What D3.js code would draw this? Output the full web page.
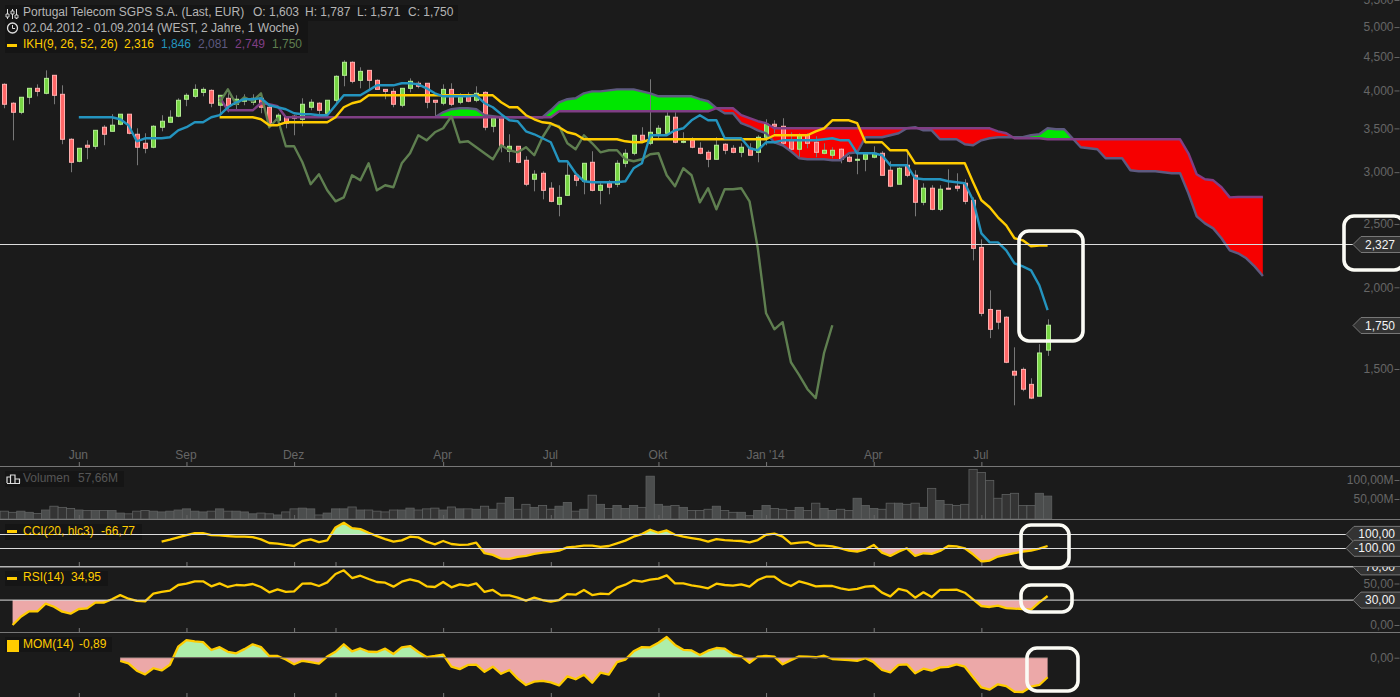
<!DOCTYPE html>
<html><head><meta charset="utf-8">
<script src="https://cdn.jsdelivr.net/npm/d3@7/dist/d3.min.js"></script>
<style>
html,body{margin:0;padding:0;background:#1b1b1b;overflow:hidden}
svg{display:block}
text{font-family:"Liberation Sans",Arial,sans-serif;font-size:12px}
</style></head><body><svg id="c" width="1400" height="697"></svg>
<script>
// ---------- data (weekly, EUR) ----------
const opens=[4.087,3.824,3.704,3.905,4.030,3.960,4.219,3.946,3.368,3.117,
3.298,3.286,3.514,3.464,3.551,3.679,3.428,3.321,3.275,3.514,
3.576,3.653,3.878,3.918,3.973,4.001,3.797,3.891,3.810,3.851,
3.837,3.891,3.770,3.601,3.640,3.653,3.614,3.770,3.824,3.691,
3.864,4.219,4.417,4.145,4.293,4.145,4.015,3.987,3.797,4.030,
4.102,4.102,3.864,3.824,4.015,3.837,3.932,3.864,3.973,3.526,
3.640,3.229,3.286,3.128,2.926,2.988,2.835,2.679,2.765,2.967,
2.905,3.106,2.814,2.885,2.875,3.095,3.206,3.416,3.321,3.440,
3.440,3.640,3.333,3.356,3.263,3.217,3.139,3.310,3.263,3.217,
3.263,3.217,3.392,3.551,3.526,3.356,3.252,3.416,3.333,3.206,
3.184,3.252,3.162,3.128,3.139,3.162,3.206,3.020,2.875,3.074,
2.967,2.698,2.835,2.632,2.835,2.855,2.885,2.717,2.302,1.850,
1.844,1.800,1.488,1.498,1.421,1.363,1.603];
const highs=[4.102,3.837,3.905,4.030,4.087,4.293,4.219,4.073,3.380,3.263,
3.356,3.476,3.539,3.679,3.679,3.679,3.501,3.440,3.539,3.666,
3.730,3.891,3.960,4.087,4.044,4.015,3.932,3.960,3.932,3.946,
3.946,3.932,3.784,3.691,3.640,3.666,3.891,3.878,3.837,3.864,
4.219,4.448,4.432,4.340,4.293,4.160,4.015,4.030,4.030,4.174,
4.131,4.102,3.864,4.087,4.102,3.960,3.973,4.059,3.987,3.627,
3.640,3.428,3.286,3.173,3.020,3.009,2.895,2.865,3.095,2.988,
3.095,3.229,2.905,2.915,3.128,3.252,3.416,3.514,4.160,3.539,
3.704,3.704,3.452,3.392,3.333,3.240,3.392,3.321,3.298,3.321,
3.321,3.416,3.614,3.601,3.627,3.452,3.440,3.440,3.404,3.321,
3.275,3.263,3.184,3.217,3.206,3.286,3.229,3.117,3.052,3.217,
3.020,2.885,2.865,2.865,3.030,2.988,2.926,2.745,2.368,1.979,
1.844,1.806,1.619,1.508,1.452,1.637,1.787];
const lows=[3.757,3.356,3.679,3.810,3.918,3.946,3.810,3.310,2.999,3.106,
3.139,3.252,3.298,3.464,3.539,3.428,3.074,3.206,3.263,3.464,
3.576,3.640,3.784,3.891,3.918,3.770,3.691,3.704,3.730,3.797,
3.797,3.691,3.514,3.564,3.501,3.416,3.526,3.730,3.666,3.691,
3.824,4.059,4.102,4.030,4.015,4.015,3.878,3.770,3.770,3.973,
4.030,3.757,3.640,3.797,3.784,3.810,3.837,3.837,3.476,3.452,
3.217,3.106,3.095,2.855,2.804,2.726,2.698,2.568,2.765,2.855,
2.775,2.804,2.679,2.775,2.845,3.052,3.184,3.333,3.298,3.380,
3.440,3.321,3.321,3.263,3.195,3.052,3.139,3.195,3.206,3.162,
3.184,3.106,3.298,3.440,3.298,3.240,3.162,3.263,3.162,3.195,
3.150,3.095,3.106,2.978,3.009,3.150,2.967,2.845,2.875,2.947,
2.568,2.670,2.623,2.614,2.825,2.804,2.679,2.199,1.806,1.672,
1.725,1.531,1.320,1.387,1.349,1.363,1.571];
const closes=[3.810,3.704,3.905,4.030,3.987,4.174,3.932,3.368,3.106,3.263,
3.275,3.476,3.428,3.539,3.679,3.440,3.275,3.263,3.526,3.589,
3.640,3.864,3.932,4.015,4.015,3.824,3.932,3.784,3.878,3.878,
3.891,3.770,3.564,3.666,3.564,3.627,3.810,3.837,3.730,3.864,
4.204,4.417,4.131,4.278,4.145,4.015,3.987,3.810,4.030,4.131,
4.059,3.837,3.837,4.015,3.810,3.905,3.851,3.960,3.514,3.627,
3.286,3.286,3.106,2.875,2.978,2.814,2.707,2.745,2.967,2.915,
3.095,2.814,2.865,2.845,3.095,3.206,3.416,3.356,3.452,3.501,
3.653,3.333,3.344,3.275,3.206,3.139,3.298,3.240,3.217,3.275,
3.184,3.392,3.551,3.526,3.321,3.252,3.416,3.321,3.217,3.240,
3.240,3.139,3.117,3.139,3.195,3.206,2.967,2.855,3.041,2.967,
2.698,2.835,2.632,2.825,2.825,2.835,2.707,2.294,1.825,1.725,
1.769,1.536,1.468,1.397,1.354,1.587,1.750];
const tenkanStart=9;
const tenkan=[3.640,3.640,3.640,3.640,3.640,3.614,3.539,3.344,3.380,3.380,
3.380,3.392,3.476,3.514,3.576,3.576,3.640,3.666,3.770,3.837,
3.878,3.878,3.891,3.797,3.770,3.744,3.691,3.679,3.679,3.666,
3.666,3.797,3.932,3.932,3.932,4.001,4.073,4.073,4.073,4.102,
4.102,4.087,4.030,3.960,3.918,3.918,3.918,3.918,3.932,3.824,
3.770,3.679,3.601,3.589,3.464,3.428,3.380,3.333,3.117,3.117,
2.988,2.905,2.895,2.895,2.895,2.895,2.905,3.041,3.095,3.416,
3.416,3.416,3.476,3.501,3.601,3.666,3.601,3.601,3.380,3.380,
3.380,3.263,3.240,3.333,3.333,3.356,3.356,3.356,3.356,3.356,
3.368,3.380,3.356,3.356,3.206,3.206,3.206,3.184,3.074,3.074,
3.074,2.936,2.926,2.926,2.926,2.905,2.895,2.885,2.717,2.418,
2.343,2.343,2.278,2.176,2.153,2.123,2.014,1.846];
const kijunStart=26;
const kijun=[3.640,3.640,3.640,3.640,3.640,3.614,3.539,3.539,3.576,3.576,
3.576,3.576,3.576,3.576,3.640,3.770,3.824,3.851,3.932,3.932,
3.932,3.932,3.932,3.932,3.932,3.932,3.932,3.932,3.932,3.932,
3.932,3.932,3.932,3.932,3.837,3.770,3.770,3.666,3.614,3.576,
3.564,3.514,3.452,3.428,3.368,3.368,3.368,3.368,3.368,3.344,
3.333,3.333,3.368,3.368,3.368,3.368,3.368,3.368,3.368,3.368,
3.368,3.368,3.368,3.368,3.368,3.368,3.368,3.416,3.416,3.416,
3.416,3.416,3.464,3.501,3.601,3.601,3.601,3.564,3.333,3.333,
3.333,3.240,3.240,3.240,3.095,3.095,3.095,3.095,3.095,3.095,
3.095,2.895,2.717,2.651,2.559,2.488,2.377,2.360,2.311,2.316,2.316];
const spanAStart=52;
const spanA=[3.640,3.704,3.744,3.757,3.757,3.744,3.666,3.653,3.640,3.640,
3.640,3.640,3.640,3.640,3.730,3.837,3.878,3.891,3.960,3.987,
3.987,4.001,4.015,4.015,4.015,3.987,3.960,3.918,3.918,3.918,
3.918,3.918,3.878,3.851,3.757,3.691,3.691,3.564,3.526,3.476,
3.440,3.333,3.298,3.229,3.150,3.139,3.139,3.139,3.128,3.128,
3.206,3.217,3.392,3.392,3.392,3.416,3.440,3.501,3.514,3.476,
3.476,3.368,3.368,3.368,3.310,3.298,3.356,3.380,3.392,3.392,
3.392,3.392,3.416,3.428,3.501,3.489,3.489,3.380,3.275,3.263,
3.252,3.150,3.150,3.150,3.020,3.009,3.009,3.009,2.999,2.988,
2.988,2.785,2.568,2.505,2.461,2.377,2.278,2.254,2.215,2.153,2.081];
const spanBStart=26;
const spanB=[3.905,3.730,3.730,3.730,3.730,3.824,3.810,3.784,3.640,3.640,
3.640,3.640,3.640,3.640,3.640,3.640,3.640,3.640,3.640,3.640,
3.640,3.640,3.640,3.640,3.640,3.640,3.640,3.640,3.640,3.640,
3.640,3.640,3.640,3.640,3.640,3.640,3.640,3.640,3.640,3.640,3.640,
3.717,3.717,3.717,3.717,3.717,3.717,3.717,3.717,3.717,3.717,
3.717,3.717,3.717,3.717,3.717,3.717,3.717,3.717,3.717,
3.757,3.757,3.757,3.666,3.627,3.589,3.564,
3.501,3.501,3.501,3.501,3.501,3.501,3.501,3.501,3.501,3.501,
3.501,3.501,3.501,3.501,3.501,3.501,3.501,3.501,3.501,3.501,
3.501,3.501,3.501,3.501,3.501,3.501,3.501,
3.464,3.440,3.380,3.380,3.380,3.380,
3.368,3.368,3.368,3.368,3.368,3.368,3.368,3.368,3.368,3.368,
3.368,3.368,3.368,3.368,3.368,3.368,3.368,
3.206,2.978,2.926,2.915,2.845,2.745,2.749,2.749,2.749,2.749];
const volumes=[18,15,18,15,12,21,31,28,25,21,
20,20,20,20,13,11,18,20,18,16,
18,21,24,18,16,18,24,18,18,16,
11,13,11,8,16,24,26,24,8,13,
24,24,29,21,21,18,16,21,21,26,
21,24,26,21,29,24,24,23,31,23,
39,54,23,36,28,33,23,31,41,18,
23,60,36,25,33,25,33,28,110,36,
31,33,28,20,20,23,31,20,15,15,
6,20,33,25,23,20,28,20,39,25,
20,23,20,52,33,25,23,39,39,36,
39,28,78,46,36,33,36,128,120,99,
52,62,65,33,33,65,57.66];
const cciStart=19;
const cci=[-5,24,57,90,119,119,90,86,76,67,
67,62,29,-24,-33,-52,-67,5,29,-10,
14,200,267,190,176,124,76,33,-5,14,
67,57,-5,-43,5,-38,-52,-48,-19,-171,
-195,-248,-252,-224,-209,-181,-162,-152,-133,-86,
-76,-62,-62,-81,-67,-29,10,67,105,167,
124,157,95,67,48,29,-5,33,19,10,
5,-14,19,95,110,67,-33,-19,-10,-62,
-62,-71,-100,-133,-148,-114,-52,-162,-209,-148,
-100,-209,-171,-181,-138,-67,-71,-100,-186,-290,
-276,-219,-195,-171,-148,-133,-105,-66.77];
const rsiStart=1;
const rsi=[0,10,16.5,16.5,25.7,22,16,13.7,19.3,20,
27,27,31,36,31.7,29,28.5,37.8,40,41.4,
48.2,49.8,52.6,52.6,46.6,50.2,45.8,48.2,47.8,49.4,
45.8,39.4,43,39.8,40.6,49.8,50.2,47,51.4,61.4,
65.9,56.6,59.4,55.4,51.8,51,46.2,52.2,55,52.6,
46.6,45.8,51.8,45.4,49,47.4,50.2,39.8,42.2,35.7,
35.7,32.9,29.3,32.9,30.1,28.1,30.1,37.3,36.5,42.2,
36.1,37.8,37.3,45,48.6,53.8,52.2,54.6,55.8,59.8,
50.2,50.2,47.8,46.2,44.2,49.8,48.2,47.4,49,46.2,
54.2,58.2,58.2,51,47,52.6,49.8,46.6,47,47,
44.2,42.2,43.4,46.2,47,39,34.5,43.4,41,32.9,
39.4,33.7,42.2,42.2,42.6,38.9,30.9,22.9,21.7,23.3,
20.4,19.7,19.3,18.5,27.3,34.95];
const momStart=14;
const mom=[-0.15,-0.26,-0.59,-0.76,-0.48,-0.58,-0.32,0.50,0.80,0.74,
0.71,0.35,0.48,0.27,0.20,0.39,0.61,0.48,0.08,0.08,
-0.08,-0.30,-0.14,-0.20,-0.27,0.05,0.27,0.61,0.29,0.42,
0.27,0.26,0.41,0.17,0.47,0.53,0.26,0.03,0.08,0.14,
-0.41,-0.52,-0.33,-0.32,-0.64,-0.41,-0.73,-0.56,-0.95,-1.24,
-1.09,-1.05,-1.12,-1.26,-0.85,-0.98,-0.77,-1.14,-0.68,-0.77,
-0.20,-0.09,0.29,0.48,0.47,0.68,0.94,0.58,0.36,0.33,
0.12,0.32,0.44,0.41,0.15,0.06,-0.23,0.05,0.08,0.05,
-0.30,-0.11,0.06,0.05,0.02,0.09,-0.06,-0.09,-0.11,-0.14,
-0.02,-0.21,-0.56,-0.67,-0.33,-0.30,-0.71,-0.50,-0.59,-0.44,
-0.42,-0.30,-0.41,-0.89,-1.35,-1.45,-1.21,-1.29,-1.55,-1.56,
-1.32,-1.24,-0.89];
const monthTickIdx=[9,22,35,53,66,79,92,105,118];
const monthTickLabels=["Jun","Sep","Dez","Apr","Jul","Okt","Jan '14","Apr","Jul"];
const panelTickIdx=[9,22,35,40,53,66,79,92,105,118];
const priceTicks=[1.5,2,2.5,3,3.5,4,4.5,5,5.5];
const priceTickLabels=["1,500","2,000","2,500","3,000","3,500","4,000","4,500","5,000","5,500"];
const lastCloseLabel="1,750", levelLabel="2,327";
const levelValue=2.327, lastClose=1.750;

// ---------- colours ----------
const C={bg:"#1b1b1b",box:"#151515",sep:"#777",tick:"#666",hl:"#dddddd",
 yellow:"#ffcc00",blue:"#2494bf",spanA:"#5e5a80",spanB:"#803f85",chikou:"#5f7f50",
 cloudUp:"#00e600",cloudDn:"#f60000",upFill:"#77d544",upEdge:"#b4ec94",dnFill:"#ff6868",dnEdge:"#ffb0b0",
 wick:"#777",softG:"#aeeeaa",softR:"#eca8a8",mark:"#fbfbf5"};

const svg=d3.select("#c");
svg.append("rect").attr("width",1400).attr("height",697).attr("fill",C.bg);

// ---------- scales ----------
const x=d3.scaleLinear().domain([0,152]).range([4.3,1262.9]);
const step=x(1)-x(0);
const y=d3.scaleLog().domain([1.5,5.5]).range([369,0]);
const yVol=d3.scaleLinear().domain([0,100]).range([518,480]);
const yCci=d3.scaleLinear().domain([-100,100]).range([548.3,534.4]);
const yRsi=d3.scaleLinear().domain([0,70]).range([625,566.9]);
const yMom=d3.scaleLinear().domain([-1,0]).range([679.7,657.7]);
const ser=(vals,start)=>vals.map((v,k)=>({i:k+start,v}));
const defs=svg.append("defs");
const clip=(id,y0,y1)=>defs.append("clipPath").attr("id",id).append("rect").attr("x",0).attr("width",1400).attr("y",y0).attr("height",y1-y0);
const box=(a,b,w,h)=>svg.append("rect").attr("x",a).attr("y",b).attr("width",w).attr("height",h).attr("fill",C.box);

// ---------- legend backgrounds (level lines run over them) ----------
box(5,5,453,16); box(5,21,303,32); box(5,471,119,16); box(5,524,137,16); box(5,571,103,15); box(5,637,107,15);

// ---------- ichimoku cloud ----------
const A=ser(spanA,spanAStart), B=ser(spanB,spanBStart);
const bBy=new Map(B.map(d=>[d.i,d.v]));
const aBy=new Map(A.map(d=>[d.i,d.v]));
const cloudArea=d3.area().x(d=>x(d.i)).y0(d=>y(d.v)).y1(d=>y(bBy.get(d.i)));
const aboveB=d3.area().x(d=>x(d.i)).y0(0).y1(d=>y(d.v));
const belowB=d3.area().x(d=>x(d.i)).y0(466).y1(d=>y(d.v));
const bOver=B.filter(d=>aBy.has(d.i));
defs.append("clipPath").attr("id","abvB").append("path").attr("d",aboveB(bOver));
defs.append("clipPath").attr("id","blwB").append("path").attr("d",belowB(bOver));
svg.append("path").attr("d",cloudArea(A)).attr("fill",C.cloudUp).attr("clip-path","url(#abvB)");
svg.append("path").attr("d",cloudArea(A)).attr("fill",C.cloudDn).attr("clip-path","url(#blwB)");

// ---------- candles ----------
const candles=opens.map((o,i)=>({i,o,h:highs[i],l:lows[i],c:closes[i]}));
const gc=svg.append("g");
gc.selectAll("line").data(candles).join("line")
 .attr("x1",d=>Math.round(x(d.i))+.5).attr("x2",d=>Math.round(x(d.i))+.5)
 .attr("y1",d=>y(d.h)).attr("y2",d=>y(d.l)).attr("stroke",C.wick).attr("stroke-width",1);
gc.selectAll("rect").data(candles).join("rect")
 .attr("x",d=>Math.round(x(d.i))-1.5).attr("width",4)
 .attr("y",d=>Math.min(y(d.o),y(d.c)))
 .attr("height",d=>Math.max(1,Math.abs(y(d.o)-y(d.c))))
 .attr("fill",d=>d.c>=d.o?C.upFill:C.dnFill)
 .attr("stroke",d=>d.c>=d.o?C.upEdge:C.dnEdge).attr("stroke-width",1);

// ---------- ichimoku lines ----------
const ln=d3.line().x(d=>x(d.i)).y(d=>y(d.v));
const chikou=closes.slice(52).map((v,k)=>({i:k+26,v}));
[[A,C.spanA],[B,C.spanB],[chikou,C.chikou],[ser(kijun,kijunStart),C.yellow],[ser(tenkan,tenkanStart),C.blue]]
 .forEach(([d,col])=>svg.append("path").attr("d",ln(d)).attr("fill","none").attr("stroke",col).attr("stroke-width",2.4).attr("stroke-linejoin","round"));

// ---------- volume ----------
svg.append("g").selectAll("rect").data(volumes.map((v,i)=>({i,v}))).join("rect")
 .attr("x",d=>x(d.i)-step/2).attr("width",step)
 .attr("y",d=>yVol(d.v)).attr("height",d=>519-yVol(d.v))
 .attr("fill",d=>closes[d.i]>=opens[d.i]?"#4b4d4d":"#343434").attr("stroke","#5f6161").attr("stroke-width",.8);

// ---------- indicator panels ----------
function panel(name,data,scale,upper,lower,y0,y1){
  const s=ser(data.v,data.start);
  const ln2=d3.line().x(d=>x(d.i)).y(d=>scale(d.v));
  if(upper!=null){
    clip(name+"U",y0,scale(upper));
    svg.append("path").attr("clip-path",`url(#${name}U)`).attr("fill",C.softG)
     .attr("d",d3.area().x(d=>x(d.i)).y0(scale(upper)).y1(d=>scale(d.v))(s));
  }
  if(lower!=null){
    clip(name+"L",scale(lower),y1);
    svg.append("path").attr("clip-path",`url(#${name}L)`).attr("fill",C.softR)
     .attr("d",d3.area().x(d=>x(d.i)).y0(scale(lower)).y1(d=>scale(d.v))(s));
  }
  svg.append("path").attr("d",ln2(s)).attr("fill","none").attr("stroke",C.yellow).attr("stroke-width",2.3).attr("stroke-linejoin","round");
}
panel("cci",{v:cci,start:cciStart},yCci,100,-100,520,566);
panel("rsi",{v:rsi,start:rsiStart},yRsi,70,30,567,632);
panel("mom",{v:mom,start:momStart},yMom,0,0,633,697);
svg.append("line").attr("x1",x(momStart)).attr("x2",x(126)).attr("y1",yMom(0)).attr("y2",yMom(0)).attr("stroke","#6a5a5a").attr("stroke-width",1);

// ---------- separators + x ticks ----------
[466,519,566,632].forEach(v=>svg.append("line").attr("x1",0).attr("x2",1400).attr("y1",v+.5).attr("y2",v+.5).attr("stroke",C.sep));
const xAxis=d3.axisTop(x).tickValues(monthTickIdx).tickFormat((d,k)=>monthTickLabels[k]).tickSize(4).tickPadding(3);
const gx=svg.append("g").attr("transform","translate(0,466)").call(xAxis);
gx.select(".domain").remove();
gx.selectAll("text").attr("fill",C.tick).attr("dx",-1);
gx.selectAll("line").attr("stroke",C.sep);
[[519,monthTickIdx],[566,panelTickIdx],[632,panelTickIdx],[697,panelTickIdx]].forEach(([b,ix])=>{
  const g=svg.append("g").attr("transform",`translate(0,${b})`).call(d3.axisTop(x).tickValues(ix).tickFormat("").tickSize(4));
  g.select(".domain").remove(); g.selectAll("line").attr("stroke",b===519?"#666":C.sep);
});

// ---------- right axes ----------
function rightAxis(scale,vals,labels){
  const g=svg.append("g").attr("transform","translate(1399.5,0)")
   .call(d3.axisLeft(scale).tickValues(vals).tickFormat((d,k)=>labels[k]).tickSize(5).tickPadding(1));
  g.select(".domain").remove();
  g.selectAll("text").attr("fill",C.tick);
  g.selectAll("line").attr("stroke",C.tick);
}
rightAxis(y,priceTicks,priceTickLabels);
rightAxis(yVol,[50,100],["50,00M","100,00M"]);
rightAxis(yRsi,[0,50],["0,00","50,00"]);
rightAxis(yMom,[0],["0,00"]);

// ---------- level lines + call-outs ----------
function callout(yv,label,left,clipId){
  const h=8;
  const g=svg.append("g"); if(clipId) g.attr("clip-path",`url(#${clipId})`);
  g.append("path").attr("d",`M${left},${yv} L${left+8},${yv-h} H1401 V${yv+h} H${left+8} Z`)
   .attr("fill","#333").attr("stroke","#777").attr("stroke-width",1);
  g.append("text").attr("x",1395).attr("y",yv+4).attr("text-anchor","end").attr("fill","#f4f4f4").text(label);
}
clip("rsiArea",567,632);
const hline=(yy,x2)=>svg.append("line").attr("x1",0).attr("x2",x2).attr("y1",yy).attr("y2",yy).attr("stroke",C.hl).attr("stroke-width",1);
hline(Math.round(y(levelValue))+.5,1353);
callout(Math.round(y(levelValue))+.5,levelLabel,1353);
callout(Math.round(y(lastClose))+.5,lastCloseLabel,1353);
hline(534.5,1346); hline(548.5,1346); hline(yRsi(30),1353);
callout(yCci(100),"100,00",1346);
callout(yCci(-100),"-100,00",1346);
callout(yRsi(70),"70,00",1353,"rsiArea");
callout(yRsi(30),"30,00",1353);
hline(yRsi(70),1353);

// ---------- legends ----------
const lab=(a,b,t,col)=>svg.append("text").attr("x",a).attr("y",b).attr("fill",col).text(t);
lab(23,16,"Portugal Telecom SGPS S.A. (Last, EUR)","#b5b5b5");
[[253,"O: 1,603"],[305,"H: 1,787"],[357,"L: 1,571"],[408,"C: 1,750"]].forEach(([a,t])=>lab(a,16,t,"#b5b5b5"));
lab(23,32,"02.04.2012 - 01.09.2014 (WEST, 2 Jahre, 1 Woche)","#b5b5b5");
lab(23,48,"IKH(9, 26, 52, 26)",C.yellow);
[[124,"2,316",C.yellow],[161,"1,846",C.blue],[198,"2,081",C.spanA],[235,"2,749",C.spanB],[272,"1,750",C.chikou]].forEach(([a,t,c])=>lab(a,48,t,c));
// icons
svg.append("path").attr("d","M7.5,9V19M12.5,9V19M16.5,9V19").attr("stroke","#ddd").attr("fill","none");
svg.append("path").attr("d","M6,14h3v3h-3zM11,11h3v3h-3zM15,15h3v3h-3z").attr("fill",C.bg).attr("stroke","#ddd").attr("stroke-width",.9);
svg.append("circle").attr("cx",12.5).attr("cy",28).attr("r",5).attr("fill","none").attr("stroke","#ddd").attr("stroke-width",1.3);
svg.append("path").attr("d","M12.5,25V28.5H15").attr("fill","none").attr("stroke","#ddd");
svg.append("rect").attr("x",7).attr("y",44).attr("width",10).attr("height",3).attr("fill",C.yellow);

svg.append("path").attr("d","M7,483V477H10.5V483M10.5,483V475H15V483M15,483V479H19.5V483").attr("fill","none").attr("stroke","#ddd").attr("stroke-width",1.2);
svg.append("line").attr("x1",7).attr("x2",20).attr("y1",483.5).attr("y2",483.5).attr("stroke","#ddd");
lab(23,482,"Volumen","#555"); lab(78,482,"57,66M","#555");

svg.append("rect").attr("x",7).attr("y",530).attr("width",10).attr("height",3).attr("fill",C.yellow);
lab(23,535,"CCI(20, hlc3)",C.yellow); lab(101,535,"-66,77",C.yellow);
svg.append("rect").attr("x",7).attr("y",577).attr("width",10).attr("height",3).attr("fill",C.yellow);
lab(23,581,"RSI(14)",C.yellow); lab(71,581,"34,95",C.yellow);
svg.append("rect").attr("x",7).attr("y",640).attr("width",12).attr("height",12).attr("fill",C.yellow);
lab(23,648,"MOM(14)",C.yellow); lab(79,648,"-0,89",C.yellow);

// ---------- hand-drawn highlight frames ----------
[[1019,231,64,110],[1344,216,60,54],[1021,525,48,43],[1021,585,51,27],[1027,648,51,43]].forEach(([a,b,w,h])=>
 svg.append("rect").attr("x",a).attr("y",b).attr("width",w).attr("height",h).attr("rx",10).attr("fill","none").attr("stroke",C.mark).attr("stroke-width",3.6));
</script></body></html>
